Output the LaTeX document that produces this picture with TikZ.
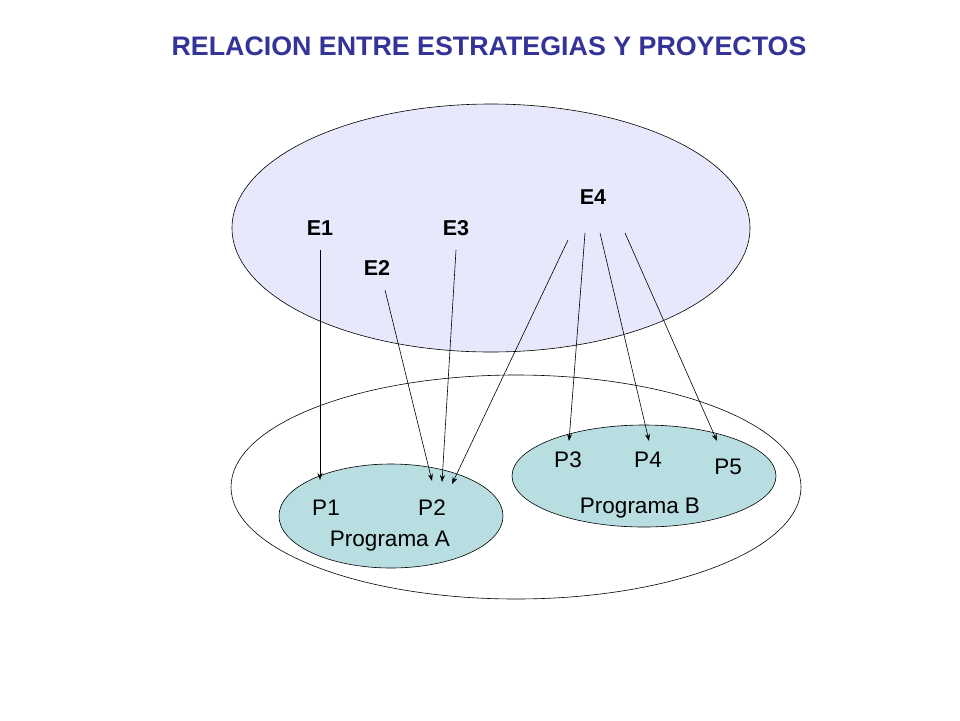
\documentclass[tikz,border=0pt]{standalone}
\usepackage{fontspec}
\setmainfont{Liberation Sans}
\usetikzlibrary{arrows.meta}
\definecolor{lav}{RGB}{232,232,252}
\definecolor{teal1}{RGB}{184,222,226}
\definecolor{ttl}{RGB}{51,51,153}
\begin{document}
\begin{tikzpicture}[x=1pt,y=-1pt,
  elab/.style={font=\bfseries\fontsize{21.5}{25}\selectfont},
  plab/.style={font=\fontsize{22.5}{26}\selectfont},
  arr/.style={-{Stealth[length=7pt,width=5pt]},line width=0.6pt}]
\useasboundingbox (0,0) rectangle (960,720);
\draw[fill=lav,line width=0.6pt] (491,228) ellipse [x radius=259,y radius=124];
\draw[line width=0.6pt] (516,487) ellipse [x radius=285,y radius=112];
\draw[fill=teal1,line width=0.6pt] (391,516) ellipse [x radius=112,y radius=52];
\draw[fill=teal1,line width=0.6pt] (644,476) ellipse [x radius=132,y radius=51];
\node[font=\bfseries\fontsize{26.8}{30}\selectfont,text=ttl] (title) at (489,46) {RELACION ENTRE ESTRATEGIAS Y PROYECTOS};
\node[elab] (e1) at (320,228) {E1};
\node[elab] (e3) at (456,228) {E3};
\node[elab] (e2) at (377,268) {E2};
\node[elab] (e4) at (593,197) {E4};
\node[plab] (p1) at (326,508) {P1};
\node[plab] (p2) at (432,508) {P2};
\node[plab] (pa) at (390,541) {Programa A};
\node[plab] (p3) at (568,460) {P3};
\node[plab] (p4) at (648,460) {P4};
\node[plab] (p5) at (728,467) {P5};
\node[plab] (pb) at (640,508) {Programa B};
\coordinate (s1) at (320,250); \coordinate (t1) at (320,480);
\coordinate (s2) at (385,290); \coordinate (t2) at (432,481);
\coordinate (s3) at (456,250); \coordinate (t3) at (442,482);
\coordinate (s4) at (568,240); \coordinate (t4) at (452,484);
\coordinate (s5) at (585,233); \coordinate (t5) at (569,441);
\coordinate (s6) at (600,233); \coordinate (t6) at (649,441);
\coordinate (s7) at (625,233); \coordinate (t7) at (717,441);
\foreach \i in {1,...,7} \draw[arr] (s\i) -- (t\i);
\end{tikzpicture}
\end{document}
